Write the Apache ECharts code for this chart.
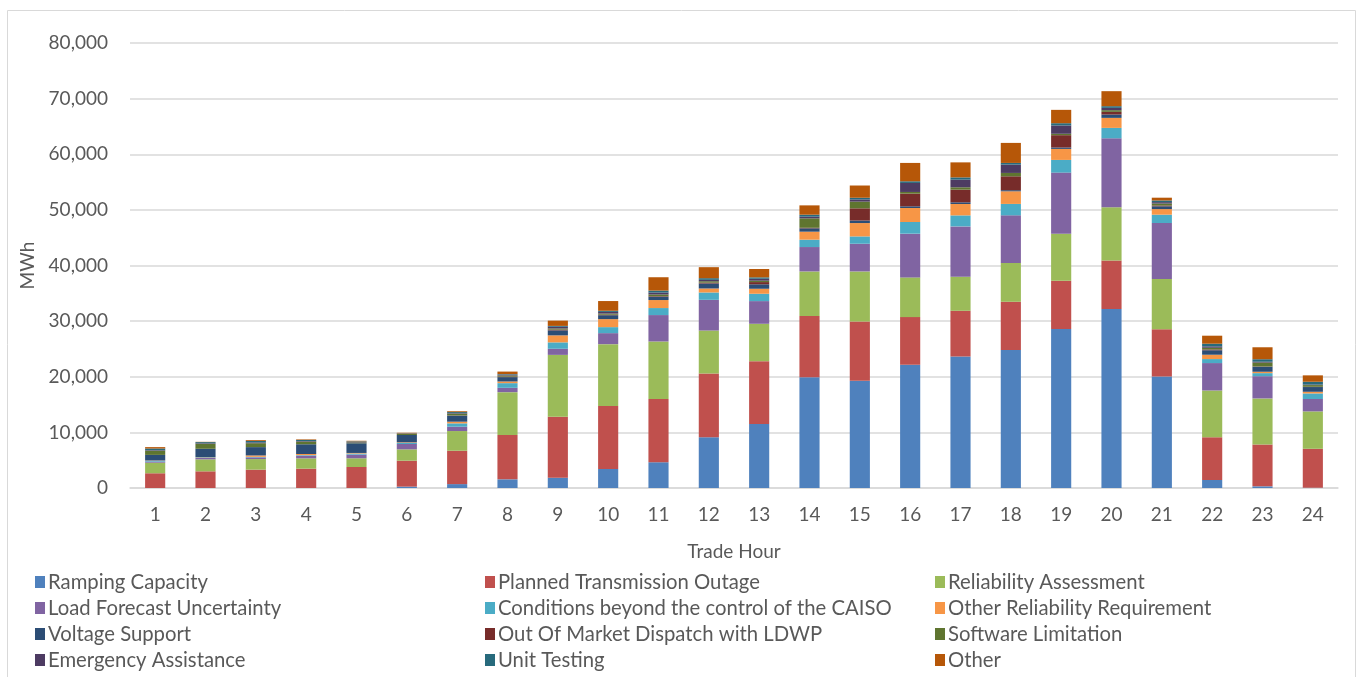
<!DOCTYPE html>
<html>
<head>
<meta charset="utf-8">
<script src="https://cdn.jsdelivr.net/npm/echarts@6/dist/echarts.min.js"></script>
<style>
    html, body { margin: 0; padding: 0; background: #fff; }
    #chart { width: 1364px; height: 677px; }
</style>
</head>
<body>
<div id="chart"></div>
<script>
'use strict';

var hours = ['1','2','3','4','5','6','7','8','9','10','11','12','13','14','15','16','17','18','19','20','21','22','23','24'];

var rampingCapacity =     [0, 0, 0, 0, 0, 250, 700, 1560, 1850, 3420, 4630, 9130, 11520, 19930, 19260, 22140, 23630, 24790, 28570, 32170, 20030, 1440, 300, 50];
var plannedTransmission = [2650, 3000, 3300, 3480, 3780, 4660, 6000, 7980, 10980, 11340, 11390, 11440, 11280, 10970, 10670, 8580, 8230, 8690, 8690, 8740, 8530, 7690, 7500, 7000];
var reliabilityAssess =   [1900, 2150, 1900, 1850, 1560, 2040, 3540, 7690, 11100, 11100, 10320, 7740, 6720, 8030, 9000, 7140, 6120, 6970, 8460, 9540, 9000, 8400, 8300, 6720];
var loadForecast =        [200, 250, 300, 480, 660, 960, 780, 780, 1100, 1980, 4750, 5520, 4080, 4390, 4980, 7860, 9050, 8570, 10980, 12420, 10080, 4930, 4000, 2230];
var conditionsBeyond =    [150, 100, 100, 100, 200, 200, 600, 840, 1150, 1080, 1260, 1320, 1320, 1320, 1320, 2100, 1980, 2050, 2280, 1870, 1500, 720, 550, 1000];
var otherReliability =    [50, 50, 250, 200, 100, 100, 300, 300, 1260, 1440, 1440, 720, 900, 1440, 2400, 2520, 2050, 2270, 1980, 1800, 1000, 780, 250, 300];
var voltageSupport =      [1000, 1500, 1500, 1750, 1740, 1320, 1080, 780, 900, 700, 600, 900, 800, 600, 450, 300, 300, 200, 250, 600, 500, 800, 900, 850];
var outOfMarketLdwp =     [0, 0, 0, 0, 0, 0, 50, 100, 150, 100, 100, 150, 400, 100, 2200, 2280, 2280, 2500, 2220, 480, 150, 150, 50, 50];
var softwareLimitation =  [750, 900, 700, 480, 150, 200, 300, 200, 200, 200, 300, 250, 250, 1700, 1200, 300, 420, 600, 250, 300, 350, 300, 700, 300];
var emergencyAssist =     [100, 100, 150, 100, 100, 50, 100, 150, 300, 300, 350, 250, 350, 300, 400, 1620, 1380, 1500, 1500, 420, 250, 250, 150, 100];
var unitTesting =         [300, 200, 250, 200, 100, 50, 200, 100, 150, 200, 350, 300, 250, 350, 300, 300, 400, 300, 400, 300, 300, 480, 450, 500];
var otherReason =         [250, 50, 150, 100, 100, 100, 150, 450, 950, 1750, 2400, 1980, 1500, 1680, 2200, 3300, 2700, 3600, 2400, 2700, 500, 1440, 2150, 1150];

var yTicks = [0, 10000, 20000, 30000, 40000, 50000, 60000, 70000, 80000];

var names = [
    'Ramping Capacity', 'Planned Transmission Outage', 'Reliability Assessment',
    'Load Forecast Uncertainty', 'Conditions beyond the control of the CAISO', 'Other Reliability Requirement',
    'Voltage Support', 'Out Of Market Dispatch with LDWP', 'Software Limitation',
    'Emergency Assistance', 'Unit Testing', 'Other'
];
var values = [
    rampingCapacity, plannedTransmission, reliabilityAssess,
    loadForecast, conditionsBeyond, otherReliability,
    voltageSupport, outOfMarketLdwp, softwareLimitation,
    emergencyAssist, unitTesting, otherReason
];
var colors = ['#4F81BD', '#C0504D', '#9BBB59', '#8064A2', '#4BACC6', '#F79646',
              '#2C4D75', '#772C2A', '#5F7530', '#4D3B62', '#276A7C', '#B65708'];

var font = 'Lato, "Open Sans", sans-serif';
var textColor = '#595959';

var series = [];
for (var i = 0; i < names.length; i ++) {
    series.push({
        name: names[i],
        type: 'bar',
        stack: 'total',
        barCategoryGap: '60%',
        data: values[i],
        itemStyle: { color: colors[i] }
    });
}

// legend laid out as three columns of four
var legendCols = [];
var colLeft = [30, 480, 930];
for (var c = 0; c < 3; c ++) {
    var items = [];
    for (var r = 0; r < 4; r ++) {
        items.push(names[r * 3 + c]);
    }
    legendCols.push({
        data: items,
        orient: 'vertical',
        left: colLeft[c],
        top: 567,
        itemWidth: 10,
        itemHeight: 12,
        itemGap: 6,
        icon: 'rect',
        selectedMode: false,
        textStyle: { fontFamily: font, fontSize: 20.3, color: textColor, lineHeight: 20, padding: [0, 0, 0, -2] }
    });
}

var chart = echarts.init(document.getElementById('chart'));
chart.setOption({
    animation: false,
    color: colors,
    graphic: [{
        type: 'rect',
        shape: { x: 7.5, y: 10.5, width: 1348, height: 700 },
        style: { fill: 'none', stroke: '#D9D9D9', lineWidth: 1 },
        silent: true
    }],
    legend: legendCols,
    grid: { left: 130, right: 26, top: 43, bottom: 189 },
    xAxis: {
        type: 'category',
        data: hours,
        name: 'Trade Hour',
        nameLocation: 'middle',
        nameGap: 54,
        nameTextStyle: { fontFamily: font, fontSize: 19, color: textColor },
        axisLine: { lineStyle: { color: '#D9D9D9', width: 1.5 } },
        axisTick: { show: false },
        axisLabel: { fontFamily: font, fontSize: 19, color: textColor, margin: 17 }
    },
    yAxis: {
        type: 'value',
        min: yTicks[0],
        max: yTicks[yTicks.length - 1],
        interval: yTicks[1] - yTicks[0],
        name: 'MWh',
        nameLocation: 'middle',
        nameGap: 92,
        nameTextStyle: { fontFamily: font, fontSize: 19, color: textColor },
        axisLine: { show: false },
        axisTick: { show: false },
        splitLine: { lineStyle: { color: '#D9D9D9', width: 1.5 } },
        axisLabel: {
            fontFamily: font, fontSize: 19, color: textColor, margin: 22,
            formatter: function (v) { return v.toLocaleString('en-US'); }
        }
    },
    series: series
});
</script>
</body>
</html>
